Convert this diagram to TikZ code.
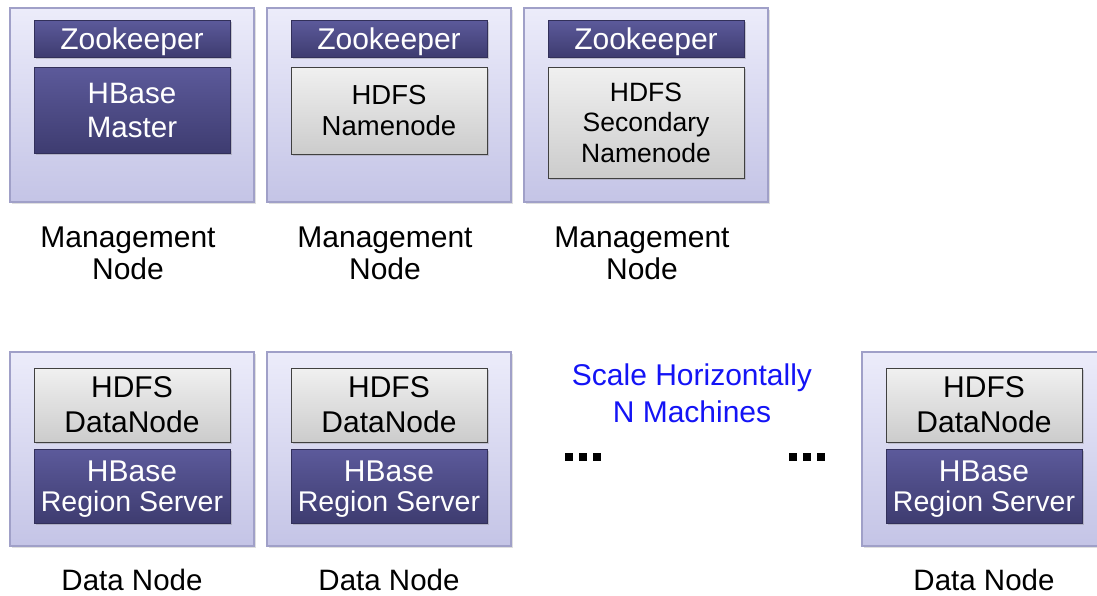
\documentclass[tikz,border=0pt]{standalone}
\usepackage{fontspec}
\setmainfont{Liberation Sans}
\usetikzlibrary{shadows}
\definecolor{outerline}{RGB}{160,160,200}
\definecolor{outertop}{RGB}{236,236,250}
\definecolor{outerbot}{RGB}{196,196,230}
\definecolor{darktop}{RGB}{92,90,155}
\definecolor{darkbot}{RGB}{62,60,112}
\definecolor{graytop}{RGB}{240,240,240}
\definecolor{graybot}{RGB}{204,204,204}
\definecolor{scaleblue}{RGB}{20,20,245}
\tikzset{
  outerbox/.style={rectangle, draw=outerline, line width=1.2pt, top color=outertop, bottom color=outerbot,
    minimum width=244pt, minimum height=194pt, inner sep=0pt,
    drop shadow={shadow xshift=1.5pt, shadow yshift=-1.5pt, opacity=0.25}},
  darkbox/.style={rectangle, draw=darkbot!80!black, line width=0.4pt, top color=darktop, bottom color=darkbot,
    text=white, align=center, inner sep=0pt, minimum width=196pt, text depth=0pt,
    drop shadow={shadow xshift=1.5pt, shadow yshift=-1.5pt, opacity=0.35}},
  graybox/.style={rectangle, draw=black!75, line width=1pt, top color=graytop, bottom color=graybot,
    text=black, align=center, inner sep=0pt, minimum width=196pt, text depth=0pt,
    drop shadow={shadow xshift=1.5pt, shadow yshift=-1.5pt, opacity=0.3}},
  lbl/.style={align=center, inner sep=0pt, text=black},
}
\begin{document}
\begin{tikzpicture}[x=1pt,y=-1pt]
\useasboundingbox (0,0) rectangle (1097,595);
% top row
\node[outerbox] (m1) at (132,105) {};
\node[outerbox] (m2) at (389,105) {};
\node[outerbox] (m3) at (646,105) {};
\node[darkbox, minimum height=37pt, font=\fontsize{30}{34}\selectfont] (z1) at (132,38.5) {Zookeeper};
\node[darkbox, minimum height=37pt, font=\fontsize{30}{34}\selectfont] (z2) at (389,38.5) {Zookeeper};
\node[darkbox, minimum height=37pt, font=\fontsize{30}{34}\selectfont] (z3) at (646,38.5) {Zookeeper};
\node[darkbox, minimum height=86pt, font=\fontsize{29.5}{34}\selectfont] (hm) at (132,110) {HBase\\Master};
\node[graybox, minimum height=87pt, font=\fontsize{27.5}{31}\selectfont] (nn) at (389,110.5) {HDFS\\Namenode};
\node[graybox, minimum height=111pt, font=\fontsize{26.5}{30.5}\selectfont] (snn) at (646,122.5) {HDFS\\Secondary\\Namenode};
\node[lbl, font=\fontsize{30}{32}\selectfont] (lm1) at (128,253.5) {Management\\Node};
\node[lbl, font=\fontsize{30}{32}\selectfont] (lm2) at (385,253.5) {Management\\Node};
\node[lbl, font=\fontsize{30}{32}\selectfont] (lm3) at (642,253.5) {Management\\Node};
% bottom row
\node[outerbox] (d1) at (132,449) {};
\node[outerbox] (d2) at (389,449) {};
\node[outerbox] (d4) at (984,449) {};
\node[graybox, minimum height=74pt, font=\fontsize{30}{35}\selectfont] (dn1) at (132,405) {HDFS\\DataNode};
\node[graybox, minimum height=74pt, font=\fontsize{30}{35}\selectfont] (dn2) at (389,405) {HDFS\\DataNode};
\node[graybox, minimum height=74pt, font=\fontsize{30}{35}\selectfont] (dn4) at (984,405) {HDFS\\DataNode};
\node[darkbox, minimum height=74pt, font=\fontsize{30}{32}\selectfont] (rs1) at (132,486) {HBase\\[-2pt]{\fontsize{28.5}{30}\selectfont Region Server}};
\node[darkbox, minimum height=74pt, font=\fontsize{30}{32}\selectfont] (rs2) at (389,486) {HBase\\[-2pt]{\fontsize{28.5}{30}\selectfont Region Server}};
\node[darkbox, minimum height=74pt, font=\fontsize{30}{32}\selectfont] (rs4) at (984,486) {HBase\\[-2pt]{\fontsize{28.5}{30}\selectfont Region Server}};
\node[lbl, font=\fontsize{29.5}{32}\selectfont] (ld1) at (132,580) {Data Node};
\node[lbl, font=\fontsize{29.5}{32}\selectfont] (ld2) at (389,580) {Data Node};
\node[lbl, font=\fontsize{29.5}{32}\selectfont] (ld4) at (984,580) {Data Node};
% scale text
\node[lbl, text=scaleblue, font=\fontsize{30}{37}\selectfont] (scale) at (692,393.5) {Scale Horizontally\\N Machines};
% dots
\foreach \x in {565,579,593,789,803,817} \fill[black] (\x,453) rectangle ++(8,8);
\end{tikzpicture}
\end{document}
